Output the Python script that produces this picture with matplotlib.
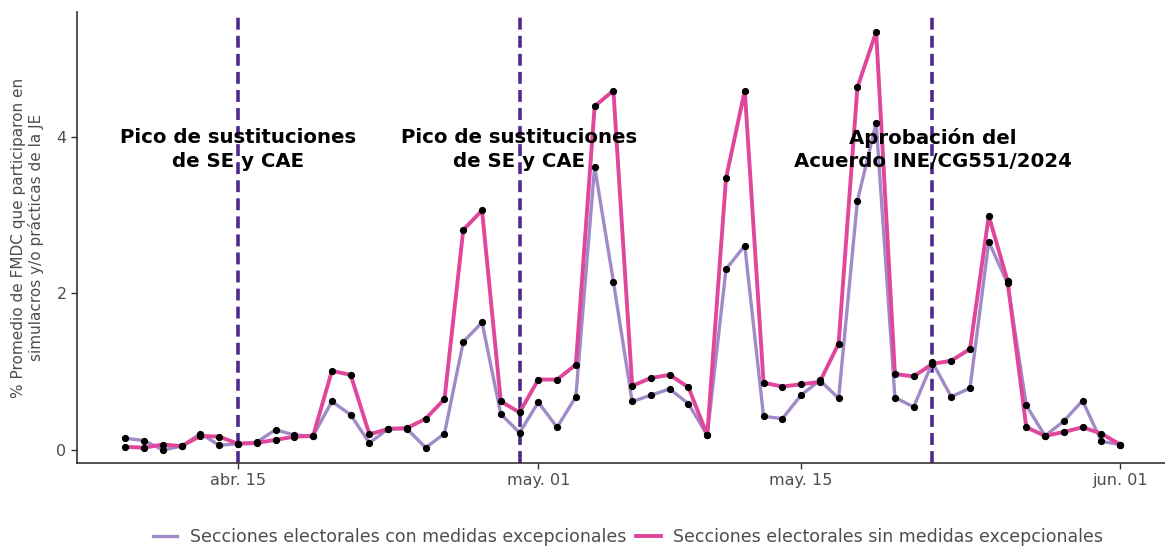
import matplotlib
matplotlib.use("Agg")
import matplotlib.pyplot as plt
import numpy as np
import pandas as pd

# ---- data ----
dates = pd.date_range("2024-04-09", "2024-06-01", freq="D")

con_medidas = [0.15, 0.12, 0.00, 0.05, 0.21, 0.06, 0.08, 0.10, 0.26, 0.19,
               0.18, 0.62, 0.45, 0.09, 0.27, 0.27, 0.03, 0.21, 1.38, 1.63,
               0.46, 0.22, 0.61, 0.29, 0.68, 3.62, 2.15, 0.62, 0.70, 0.78,
               0.59, 0.19, 2.31, 2.61, 0.43, 0.40, 0.70, 0.89, 0.66, 3.18,
               4.18, 0.67, 0.55, 1.12, 0.68, 0.79, 2.66, 2.13, 0.57, 0.18,
               0.37, 0.63, 0.11, 0.07]

sin_medidas = [0.04, 0.03, 0.07, 0.05, 0.18, 0.17, 0.08, 0.09, 0.13, 0.17,
               0.18, 1.01, 0.96, 0.20, 0.27, 0.28, 0.40, 0.65, 2.81, 3.06,
               0.62, 0.48, 0.90, 0.90, 1.09, 4.39, 4.59, 0.82, 0.92, 0.96,
               0.80, 0.19, 3.47, 4.59, 0.86, 0.81, 0.84, 0.87, 1.36, 4.63,
               5.34, 0.97, 0.94, 1.10, 1.14, 1.29, 2.99, 2.16, 0.29, 0.18,
               0.23, 0.29, 0.21, 0.07]

series_labels = ["Secciones electorales con medidas excepcionales",
                 "Secciones electorales sin medidas excepcionales"]

event_dates = pd.to_datetime(["2024-04-15", "2024-04-30", "2024-05-22"])
event_labels = ["Pico de sustituciones\nde SE y CAE",
                "Pico de sustituciones\nde SE y CAE",
                "Aprobación del\nAcuerdo INE/CG551/2024"]
event_text_y = 3.84

xtick_dates = pd.to_datetime(["2024-04-15", "2024-05-01", "2024-05-15", "2024-06-01"])
xtick_labels = ["abr. 15", "may. 01", "may. 15", "jun. 01"]
ytick_vals = [0, 2, 4]

ylabel = "% Promedio de FMDC que participaron en\nsimulacros y/o prácticas de la JE"

# ---- style ----
c_con = "#A08AC8"
c_sin = "#E0469A"
c_event = "#4F2A8E"
c_text_gray = "#4D4D4D"

fig = plt.figure(figsize=(11.65, 5.5), dpi=100)
W, H = 1165, 550
ax = fig.add_axes([77 / W, (H - 463) / H, (1165 - 77) / W, (463 - 12) / H])

ax.plot(dates, con_medidas, color=c_con, lw=2.4, label=series_labels[0], zorder=2)
ax.plot(dates, sin_medidas, color=c_sin, lw=2.8, label=series_labels[1], zorder=3)
ax.plot(dates, con_medidas, "o", color="black", ms=4.2, zorder=4)
ax.plot(dates, sin_medidas, "o", color="black", ms=4.2, zorder=4)

for d, lab in zip(event_dates, event_labels):
    ax.axvline(d, color=c_event, lw=2.6, ls=(0, (3.3, 1.7)), zorder=1)
    ax.text(d, event_text_y, lab, ha="center", va="center", fontsize=14.2,
            fontweight="bold", color="black", linespacing=1.3, zorder=5)

base = pd.Timestamp("2024-04-15")
ax.set_xlim(base - pd.Timedelta(days=8.58), base + pd.Timedelta(days=49.39))
ax.set_ylim(-0.166, 5.594)

ax.set_xticks(xtick_dates)
ax.set_xticklabels(xtick_labels)
ax.set_yticks(ytick_vals)
ax.set_yticklabels([str(v) for v in ytick_vals])
ax.tick_params(axis="both", colors="#333333", labelcolor=c_text_gray,
               labelsize=11.5, length=4, width=1)

for s in ["top", "right"]:
    ax.spines[s].set_visible(False)
for s in ["left", "bottom"]:
    ax.spines[s].set_color("#333333")
    ax.spines[s].set_linewidth(1.2)

ax.set_ylabel(ylabel, fontsize=11, color=c_text_gray, labelpad=9, linespacing=1.15)

leg = fig.legend(loc="center", bbox_to_anchor=(628 / W, (H - 537) / H), ncol=2,
                 frameon=False, fontsize=12.55, handlelength=1.4,
                 handletextpad=0.7, columnspacing=0.6)
for t in leg.get_texts():
    t.set_color(c_text_gray)

fig.savefig("out.png", dpi=100)
